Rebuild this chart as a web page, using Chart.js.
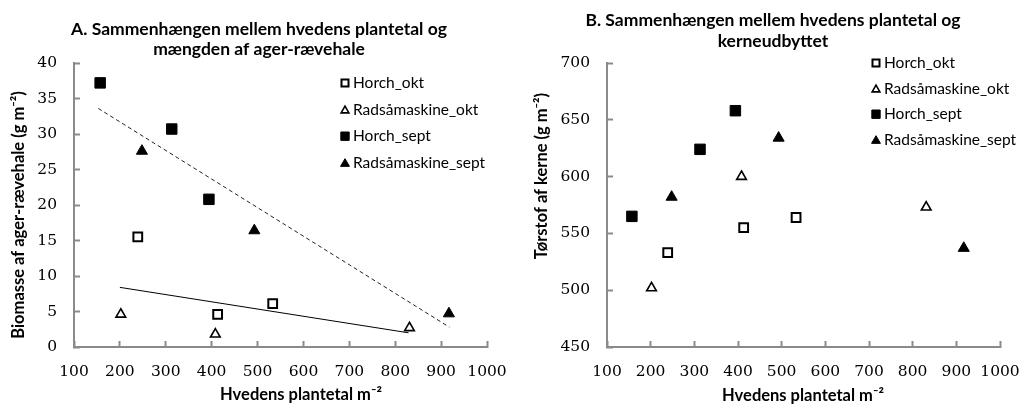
<!DOCTYPE html>
<html lang="da">
<head>
<meta charset="UTF-8">
<title>Hvedens plantetal, ager-rævehale og kerneudbytte</title>
<style>
  body { margin: 0; background: #fff; }
  #wrap { position: relative; width: 1021px; height: 406px; }
  #wrap canvas { position: absolute; top: 0; }
</style>
</head>
<body>
<div id="wrap">
  <canvas id="chartA" width="510" height="406" style="left:0"></canvas>
  <canvas id="chartB" width="511" height="406" style="left:510px"></canvas>
</div>

<script src="https://cdn.jsdelivr.net/npm/chart.js"></script>
<script>
// plantetal (planter pr. m2) for hvert forsøgsled
const horchOktX = [239, 413, 533];
const radsaaOktX = [202, 408, 831];
const horchSeptX = [157, 313, 394];
const radsaaSeptX = [248, 493, 917];

// A: biomasse af ager-rævehale (g m-2)
const biomasseHorchOkt = [15.5, 4.6, 6.1];
const biomasseRadsaaOkt = [4.6, 1.8, 2.7];
const biomasseHorchSept = [37.2, 30.7, 20.8];
const biomasseRadsaaSept = [27.6, 16.4, 4.7];

// lineære tendenslinjer i A (start- og slutpunkt)
const trendSeptX = [153, 918];
const trendSeptY = [33.6, 2.8];
const trendOktX = [200, 829];
const trendOktY = [8.4, 2.0];

// B: tørstof af kerne (g m-2)
const kerneHorchOkt = [533, 555, 564];
const kerneRadsaaOkt = [502, 600, 573];
const kerneHorchSept = [565, 624, 658];
const kerneRadsaaSept = [582, 634, 537];

const serieNavne = ['Horch_okt', 'Radsåmaskine_okt', 'Horch_sept', 'Radsåmaskine_sept'];

const xTicks = [100, 200, 300, 400, 500, 600, 700, 800, 900, 1000];
const yTicksA = [0, 5, 10, 15, 20, 25, 30, 35, 40];
const yTicksB = [450, 500, 550, 600, 650, 700];

const pair = (xs, ys) => xs.map((x, i) => ({ x: x, y: ys[i] }));

const markerStyles = [
  { pointStyle: 'rect', pointRadius: 6.2, backgroundColor: '#fff', borderColor: '#000', borderWidth: 2 },
  { pointStyle: 'triangle', pointRadius: 5.6, backgroundColor: '#fff', borderColor: '#000', borderWidth: 1.6 },
  { pointStyle: 'rect', pointRadius: 7.4, backgroundColor: '#000', borderColor: '#000', borderWidth: 1 },
  { pointStyle: 'triangle', pointRadius: 6.4, backgroundColor: '#000', borderColor: '#000', borderWidth: 1 }
];

function seriesSets(ys) {
  const xs = [horchOktX, radsaaOktX, horchSeptX, radsaaSeptX];
  return ys.map((y, i) => Object.assign({
    label: serieNavne[i],
    data: pair(xs[i], y),
    pointHoverRadius: markerStyles[i].pointRadius
  }, markerStyles[i]));
}

// titler, aksetitler og forklaring tegnes oven på diagrammet
const decorPlugin = {
  id: 'decor',
  afterDraw(chart, args, o) {
    const ctx = chart.ctx;
    ctx.save();
    ctx.fillStyle = '#000';
    ctx.textAlign = 'center';
    ctx.textBaseline = 'alphabetic';
    ctx.font = 'bold 17.5px Lato, "Open Sans", sans-serif';
    o.title.forEach((line, i) => ctx.fillText(line, o.titleX, o.titleY[i]));

    ctx.font = 'bold 16.5px Lato, "Open Sans", sans-serif';
    ctx.fillText(o.xTitle, o.xTitlePos[0], o.xTitlePos[1]);
    ctx.save();
    ctx.translate(o.yTitlePos[0], o.yTitlePos[1]);
    ctx.rotate(-Math.PI / 2);
    ctx.textBaseline = 'middle';
    ctx.fillText(o.yTitle, 0, 0);
    ctx.restore();

    // forklaring
    ctx.font = '15.5px Lato, "Open Sans", sans-serif';
    ctx.textAlign = 'left';
    ctx.textBaseline = 'middle';
    chart.data.datasets.filter(d => !d.trend).forEach((d, i) => {
      const y = o.legendY + i * o.legendGap;
      ctx.fillStyle = d.backgroundColor;
      ctx.strokeStyle = d.borderColor;
      ctx.lineWidth = d.borderWidth;
      Chart.helpers.drawPoint(ctx, {
        pointStyle: d.pointStyle,
        radius: d.pointRadius * 0.8,
        rotation: 0,
        borderWidth: d.borderWidth
      }, o.legendX, y + (d.pointStyle === 'triangle' ? 1 : 0));
      ctx.fillStyle = '#000';
      ctx.fillText(d.label, o.legendX + 8, y);
    });
    ctx.restore();
  }
};

function axes(yTicks, yWidth) {
  const grid = { drawOnChartArea: false, tickLength: -6, tickColor: '#8a8a8a', tickWidth: 2 };
  const border = { color: '#8a8a8a', width: 2 };
  const tickFont = { family: "'DejaVu Serif', serif", size: 15.5 };
  return {
    x: {
      type: 'linear', min: xTicks[0], max: xTicks[xTicks.length - 1],
      grid: grid, border: border,
      afterBuildTicks: s => { s.ticks = xTicks.map(v => ({ value: v })); },
      ticks: { color: '#000', font: tickFont, padding: 22, maxRotation: 0, callback: v => String(v) },
      // fast højde, og ingen ekstra luft til første/sidste etiket
      afterFit: s => { s.height = 59; s.paddingLeft = 0; s.paddingRight = 0; }
    },
    y: {
      type: 'linear', min: yTicks[0], max: yTicks[yTicks.length - 1],
      grid: grid, border: border,
      afterBuildTicks: s => { s.ticks = yTicks.map(v => ({ value: v })); },
      ticks: { color: '#000', font: tickFont, padding: 23, callback: v => String(v) },
      afterFit: s => { s.width = yWidth; s.paddingTop = 0; s.paddingBottom = 0; }
    }
  };
}

const common = {
  responsive: false,
  animation: false,
  plugins: { legend: { display: false }, title: { display: false }, tooltip: { enabled: false } }
};

new Chart(document.getElementById('chartA'), {
  type: 'scatter',
  data: {
    datasets: seriesSets([biomasseHorchOkt, biomasseRadsaaOkt, biomasseHorchSept, biomasseRadsaaSept]).concat([
      {
        type: 'line', trend: true, label: 'tendens sept',
        data: pair(trendSeptX, trendSeptY),
        borderColor: '#222', borderWidth: 1, borderDash: [4, 3], pointRadius: 0, fill: false
      },
      {
        type: 'line', trend: true, label: 'tendens okt',
        data: pair(trendOktX, trendOktY),
        borderColor: '#000', borderWidth: 1, pointRadius: 0, fill: false
      }
    ])
  },
  options: Object.assign({}, common, {
    layout: { padding: { left: 0, right: 23, top: 63, bottom: 0 } },
    scales: axes(yTicksA, 74),
    plugins: Object.assign({}, common.plugins, {
      decor: {
        title: ['A. Sammenhængen mellem hvedens plantetal og', 'mængden af ager-rævehale'],
        titleX: 259, titleY: [35, 55],
        xTitle: 'Hvedens plantetal m⁻²', xTitlePos: [301, 400],
        yTitle: 'Biomasse af ager-rævehale (g m⁻²)', yTitlePos: [19, 215],
        legendX: 345, legendY: 83, legendGap: 26.6
      }
    })
  }),
  plugins: [decorPlugin]
});

new Chart(document.getElementById('chartB'), {
  type: 'scatter',
  data: {
    datasets: seriesSets([kerneHorchOkt, kerneRadsaaOkt, kerneHorchSept, kerneRadsaaSept])
  },
  options: Object.assign({}, common, {
    layout: { padding: { left: 0, right: 21, top: 63, bottom: 0 } },
    scales: axes(yTicksB, 97),
    plugins: Object.assign({}, common.plugins, {
      decor: {
        title: ['B. Sammenhængen mellem hvedens plantetal og', 'kerneudbyttet'],
        titleX: 263, titleY: [26, 47],
        xTitle: 'Hvedens plantetal m⁻²', xTitlePos: [293, 401],
        yTitle: 'Tørstof af kerne (g m⁻²)', yTitlePos: [32, 176],
        legendX: 366, legendY: 63, legendGap: 25.6
      }
    })
  }),
  plugins: [decorPlugin]
});
</script>
</body>
</html>
